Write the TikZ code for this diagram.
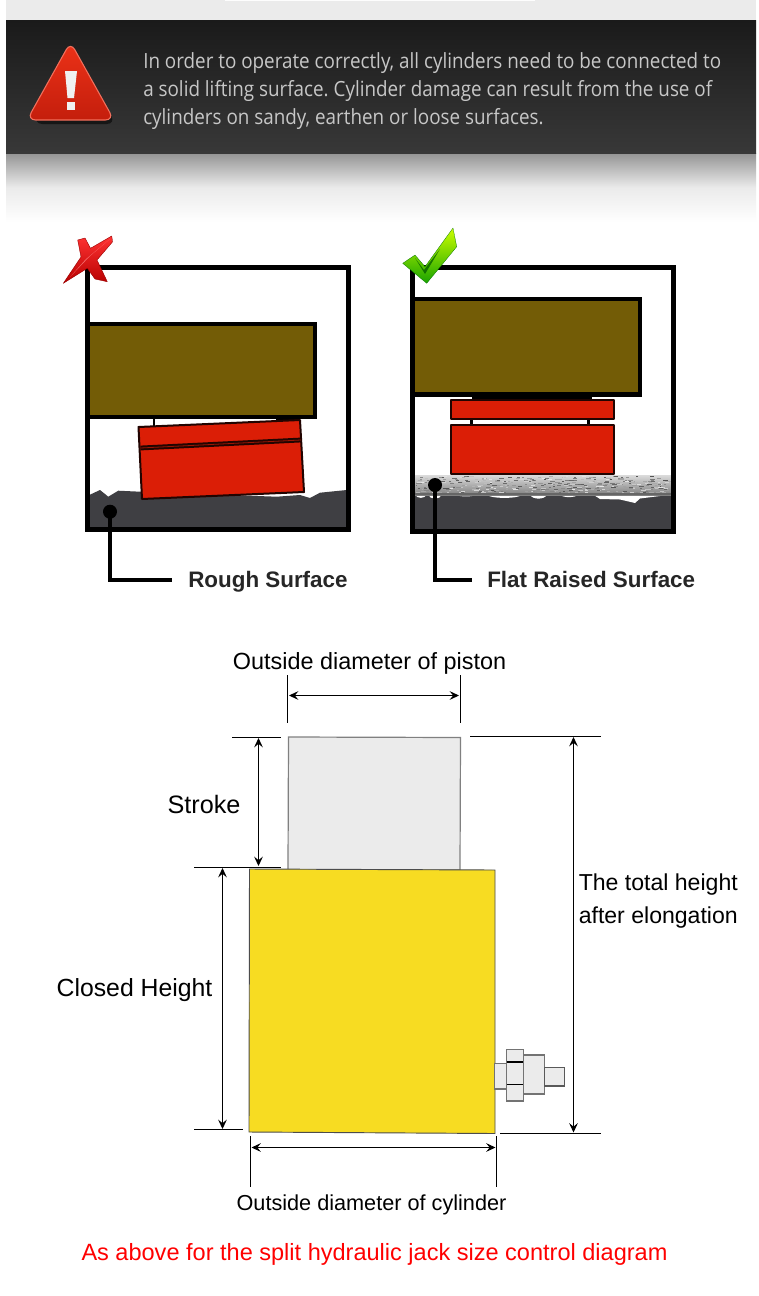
\documentclass[tikz,border=0pt]{standalone}
\usepackage{fontspec}
\setmainfont{Liberation Sans}
\newfontfamily\noticefont[FakeStretch=0.9]{Open Sans}
\usetikzlibrary{arrows.meta,calc}
\definecolor{banddark}{HTML}{1A1A1A}
\definecolor{bandlow}{HTML}{383838}
\definecolor{load}{HTML}{735C06}
\definecolor{jackred}{HTML}{DB1E06}
\definecolor{soil}{HTML}{3F3F43}
\definecolor{pistongray}{HTML}{EBEBEB}
\definecolor{bodyyellow}{HTML}{F7DC22}
\definecolor{alertlight}{HTML}{EC3218}
\definecolor{alertlow}{HTML}{C41E0C}
\frenchspacing
\tikzset{
  frame/.style={draw=black,line width=3.4pt,fill=white,line join=miter},
  loadbox/.style={draw=black,line width=3.4pt,fill=load},
  redblock/.style={draw=black!85!jackred,line width=1.5pt,fill=jackred,line join=round},
  soilfill/.style={fill=soil,draw=none},
  leader/.style={draw=black,line width=2.5pt},
  leaderdot/.style={circle,fill=black,inner sep=0pt,minimum size=10.5pt},
  surfacelabel/.style={font=\bfseries\fontsize{16.8}{18}\selectfont,inner sep=0pt,text=black!85},
  dimline/.style={draw=black,line width=0.8pt},
  dimarrow/.style={draw=black,line width=0.8pt,{Stealth[length=7pt,width=6.5pt,inset=2.6pt]}-{Stealth[length=7pt,width=6.5pt,inset=2.6pt]}},
  dimlabel/.style={font=\fontsize{17.55}{24}\selectfont,inner sep=0pt,text=black},
  fitting/.style={draw=black!55,line width=1pt,fill=pistongray},
}
\begin{document}
\begin{tikzpicture}[x=0.75pt,y=-0.75pt]
\useasboundingbox (0,0) rectangle (759,1296);
\fill[white] (0,0) rectangle (759,1296);

% Notice banner
\fill[pistongray] (6,0) rectangle (756,20);
\fill[white!90!pistongray] (225,0) rectangle (535,1);
\shade[top color=black!42,bottom color=white,middle color=black!8] (6,153) rectangle (756,222);
\shade[top color=banddark,bottom color=bandlow] (6,20) rectangle (756,153);

% Warning triangle
\fill[black,opacity=.55,rounded corners=7pt] (73,53) -- (116,124) -- (33,124) -- cycle;
\shade[top color=alertlight,bottom color=alertlow,draw=alertlight!70!white,line width=.8pt,rounded corners=6.5pt]
  (70.5,42) -- (114,120) -- (27,120) -- cycle;
\fill[white!94!black] (65,71) -- (77,71) -- (74,98) -- (67.5,98) -- cycle;
\fill[white!94!black] (66.5,102) rectangle (75,109.5);
\node[anchor=west,inner sep=0pt,align=left,text=white!78!black,
      font=\noticefont\fontsize{15.7}{21}\selectfont] (notice) at (143,91)
  {In order to operate correctly, all cylinders need to be connected to\\
   a solid lifting surface. Cylinder damage can result from the use of\\
   cylinders on sandy, earthen or loose surfaces.};

% Left panel: jack on rough ground
\draw[frame] (87.5,267.5) rectangle (348.5,529.5);
\fill[soilfill] (89.3,495) -- (100,490) -- (108.3,496.7) -- (118.3,490.7) -- (140,491.7)
  -- (276.7,496.7) -- (300,495) -- (310,498) -- (320,492.7) -- (346.7,490)
  -- (346.7,528) -- (89.3,528) -- cycle;
\draw[frame,fill=none] (87.5,267.5) rectangle (348.5,529.5);
\draw[black,line width=1.5pt] (153.5,419) -- (153.5,428);
\fill[black] (276,418) rectangle (296,422);
\draw[redblock] (138.5,427) -- (300,420) -- (304,492) -- (142,499) -- cycle;
\draw[black!85!jackred,line width=3.6pt] (140.5,448) -- (301,440);
\draw[jackred!70!black,line width=.6pt] (140.5,448) -- (301,440);
\draw[loadbox] (87.5,324) rectangle (315,417);

% Red cross mark
\shade[top color=red!80!white,bottom color=red!72!black,draw=red!60!black,line width=.3pt,line join=round]
  (77.7,240) -- (85,238) -- (90.5,248.3) -- (111.7,236) -- (112.7,241.7) -- (97,260)
  -- (107.3,281.7) -- (95,279) -- (87.3,268.3) -- (63.3,283.3) -- (81,257) -- cycle;
\fill[white!55!red,opacity=.7] (70,277) -- (86,259) -- (110,239) -- (90,256) -- cycle;

\node[leaderdot] (roughdot) at (110,511.7) {};
\coordinate (roughbend) at (110,580);
\node[surfacelabel,anchor=base west] (roughlabel) at (188,587) {Rough Surface};
\coordinate (roughend) at (172,580);
\draw[leader] (roughdot.center) -- (roughbend) -- (roughend);

% Right panel: jack on a flat raised surface
\draw[frame] (412.5,267.5) rectangle (673.5,531.5);
\fill[soilfill] (413,494) rectangle (673,530);
\foreach \a/\b/\d in {415/426.7/4,428/442/5,455/477/2,487/522/4,530/547/5,560/578/3}
  \fill[white] (\a,494.5) .. controls ({\a+2},{495+\d}) and ({\b-2},{495+\d}) .. (\b,494.5) -- cycle;
\fill[white] (593,494.5) -- (600,499) -- (620,499.5) -- (635,503) -- (640,498.5) -- (660,496) -- (662,494.5) -- cycle;
% Concrete slab with a speckled surface
\shade[top color=black!14,bottom color=black!50] (415,475) rectangle (672,495);
\pgfmathsetseed{4217}
\foreach \i in {1,...,420} {
  \pgfmathsetmacro{\px}{415+rnd*252}
  \pgfmathsetmacro{\py}{476+rnd*17}
  \pgfmathsetmacro{\shadeval}{int(10+rnd*58)}
  \pgfmathsetmacro{\len}{1.5+rnd*4}
  \fill[black!\shadeval] (\px,\py) rectangle ({\px+\len},{\py+1});
}
\fill[black!60] (415,492.5) rectangle (672,495);
\draw[frame,fill=none] (412.5,267.5) rectangle (673.5,531.5);
\fill[black] (472,396) rectangle (592,401);
\fill[black] (469.5,418) rectangle (472.5,426);
\fill[black] (587,418) rectangle (590,426);
\draw[redblock] (451,400) rectangle (614,418.5);
\draw[redblock] (451,424.5) rectangle (614,473.5);
\draw[loadbox] (412.5,299) rectangle (640,394.5);

% Green tick mark
\shade[top color=yellow!80!green,bottom color=green!60!black!90!yellow,draw=green!45!black,line width=.2pt,line join=round]
  (402.7,263.3) -- (415,255) -- (425,266.7) -- (453,228) -- (456.7,246.7) -- (426.7,283.3) -- cycle;
\fill[green!35!black,opacity=.75] (415,258) -- (424,270) -- (440,249) -- (425,274) -- cycle;

\node[leaderdot] (flatdot) at (435,485) {};
\coordinate (flatbend) at (435,580);
\node[surfacelabel,anchor=base west] (flatlabel) at (487,587) {Flat Raised Surface};
\coordinate (flatend) at (472,580);
\draw[leader] (flatdot.center) -- (flatbend) -- (flatend);

% Split jack: piston, cylinder and hose fitting
\draw[draw=black!50,line width=.9pt,fill=pistongray] (288.5,737) -- (460.5,737.5) -- (460,870) -- (288,870) -- cycle;
\draw[draw=black!70,line width=.7pt,fill=bodyyellow] (249.5,869) -- (495,870) -- (495,1133.5) -- (249,1132) -- cycle;
\draw[fitting] (494.5,1063.5) rectangle (507,1089);
\draw[fitting] (506.5,1049.5) rectangle (523.5,1101);
\draw[draw=black,line width=1pt] (506.5,1062) -- (523.5,1062) (506.5,1084.5) -- (523.5,1084.5);
\draw[fitting] (523.5,1055) rectangle (544.5,1094);
\draw[draw=black!65,line width=1pt,fill=pistongray] (544.5,1067.5) rectangle (564.5,1086);

% Dimension: piston diameter
\coordinate (pa1) at (287.5,675); \coordinate (pa2) at (287.5,723);
\coordinate (pb1) at (460.5,675); \coordinate (pb2) at (460.5,723);
\coordinate (pl) at (289,695.5); \coordinate (pr) at (459,695.5);
\draw[dimline] (pa1) -- (pa2);
\draw[dimline] (pb1) -- (pb2);
\draw[dimarrow] (pl) -- (pr);
\node[dimlabel] (pistonlabel) at (369.5,663) {Outside diameter of piston};

% Dimension: stroke
\coordinate (sa1) at (232,737.5); \coordinate (sa2) at (281,737.5);
\coordinate (sb1) at (194,867.5); \coordinate (sb2) at (281,867.5);
\coordinate (st) at (258.5,738); \coordinate (sb) at (258.5,866);
\draw[dimline] (sa1) -- (sa2);
\draw[dimline] (sb1) -- (sb2);
\draw[dimarrow] (st) -- (sb);
\node[dimlabel,font=\fontsize{18.9}{24}\selectfont] (strokelabel) at (204,804) {Stroke};

% Dimension: closed height
\coordinate (ca1) at (194,1129.5); \coordinate (ca2) at (243,1129.5);
\coordinate (ct) at (222.5,868); \coordinate (cb) at (222.5,1129);
\draw[dimline] (ca1) -- (ca2);
\draw[dimarrow] (ct) -- (cb);
\node[dimlabel,font=\fontsize{18.6}{24}\selectfont] (closedlabel) at (134.5,990.5) {Closed Height};

% Dimension: total height after elongation
\coordinate (ta1) at (470,736.5); \coordinate (ta2) at (601,736.5);
\coordinate (tb1) at (500,1133.5); \coordinate (tb2) at (601,1133.5);
\coordinate (tt) at (573.5,737); \coordinate (tb) at (573.5,1132.5);
\draw[dimline] (ta1) -- (ta2);
\draw[dimline] (tb1) -- (tb2);
\draw[dimarrow] (tt) -- (tb);
\node[dimlabel,anchor=west,align=left,font=\fontsize{17.3}{24.75}\selectfont] (totallabel) at (578.5,901.5)
  {The total height\\after elongation};

% Dimension: cylinder diameter
\coordinate (da1) at (250.5,1136); \coordinate (da2) at (250.5,1187);
\coordinate (db1) at (496.5,1136); \coordinate (db2) at (496.5,1187);
\coordinate (dl) at (251.5,1147.5); \coordinate (dr) at (495.5,1147.5);
\draw[dimline] (da1) -- (da2);
\draw[dimline] (db1) -- (db2);
\draw[dimarrow] (dl) -- (dr);
\node[dimlabel,font=\fontsize{16.25}{20}\selectfont] (cylinderlabel) at (371.5,1205) {Outside diameter of cylinder};

\node[dimlabel,text=red,font=\fontsize{17.65}{24}\selectfont] (caption) at (374.5,1254)
  {As above for the split hydraulic jack size control diagram};
\end{tikzpicture}
\end{document}
